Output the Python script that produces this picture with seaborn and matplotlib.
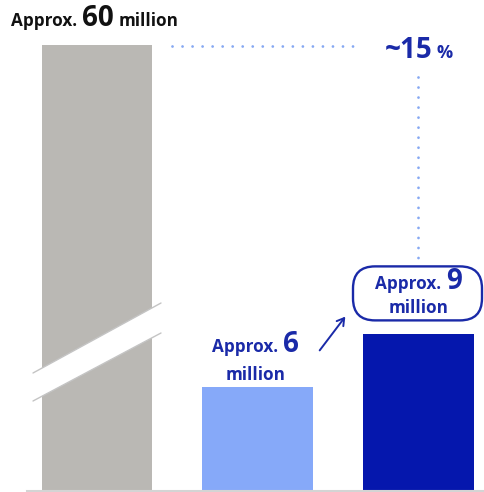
import matplotlib
matplotlib.use("Agg")
import matplotlib.pyplot as plt
import seaborn as sns
import pandas as pd
from matplotlib.patches import FancyBboxPatch, Polygon, FancyArrowPatch
from matplotlib.lines import Line2D
from matplotlib.transforms import IdentityTransform

# ---- data -------------------------------------------------------------
groups = ["total", "now", "next"]
values = [60, 6, 9]                      # millions
bar_colors = ["#bab8b4", "#86a9f9", "#0517ad"]
unit_word = "million"
prefix = "Approx."
share_text = "~15"
share_unit = "%"

# ---- figure / axes ----------------------------------------------------
W, H = 485, 492
sns.set_theme(style="white")
plt.rcParams["font.family"] = ["Open Sans", "DejaVu Sans"]

fig = plt.figure(figsize=(W / 100, H / 100), dpi=100)
ax = fig.add_axes([27 / W, 1 / H, 458 / W, 446 / H])

df = pd.DataFrame({"group": groups, "value": values})
sns.barplot(data=df, x="group", y="value", hue="group", palette=bar_colors,
            width=0.69, saturation=1, legend=False, ax=ax, linewidth=0)

ax.set_xlim(-0.4355, 2.414)
ax.set_ylim(0, 25.63)          # the tall bar is cut off at the top
ax.set_xlabel("")
ax.set_ylabel("")
ax.set_xticks([])
ax.set_yticks([])
for side in ("left", "right", "top"):
    ax.spines[side].set_visible(False)
ax.spines["bottom"].set_color("#d4d4d4")
ax.spines["bottom"].set_linewidth(1.5)

DARK = "#1a2aa8"
LIGHT = "#86a8f2"
PX = IdentityTransform()
renderer = fig.canvas.get_renderer()

SMALL, BIG = 12.3, 20


def dy(y_top):
    """pixel row measured from the top -> display y"""
    return H - y_top


def bar_top(i):
    return H - ax.transData.transform((i, values[i]))[1]


def bar_x(i):
    return ax.transData.transform((i, 0))[0]


def text_run(parts, x, y_top, ha="left", color="black", gap=5):
    arts = []
    for s, size in parts:
        t = fig.text(0, 0, s, fontsize=size, fontweight="bold", color=color,
                     va="baseline", ha="left", transform=PX, zorder=8)
        arts.append(t)
    widths = [a.get_window_extent(renderer).width for a in arts]
    total = sum(widths) + gap * (len(arts) - 1)
    cx = x - total / 2 if ha == "center" else x
    for a, w in zip(arts, widths):
        a.set_position((cx, dy(y_top)))
        cx += w + gap
    return arts


# ---- broken-axis cut across the tall bar ------------------------------
upper = [(33, 373), (161, 303)]
lower = [(33, 401), (161, 333)]
band = Polygon([(x, dy(y)) for x, y in upper + lower[::-1]], closed=True,
               facecolor="white", edgecolor="none", transform=PX, zorder=5)
fig.add_artist(band)
for edge in (upper, lower):
    fig.add_artist(Line2D([p[0] for p in edge], [dy(p[1]) for p in edge],
                          color="#c4c4c4", lw=1.0, transform=PX, zorder=6))

# ---- labels -----------------------------------------------------------
text_run([(prefix, SMALL), (str(values[0]), BIG), (unit_word, SMALL)], 11, 26,
         color="#111111", gap=5)

T2 = bar_top(1)
T3 = bar_top(2)
x2 = bar_x(1)
x3 = bar_x(2)

text_run([(prefix, SMALL), (str(values[1]), BIG)], x2 - 2, T2 - 35,
         ha="center", color=DARK)
text_run([(unit_word, SMALL)], x2 - 2, T2 - 7, ha="center", color=DARK)

box = FancyBboxPatch((353, dy(T3 - 14)), 129, 54,
                     boxstyle="round,pad=0,rounding_size=22",
                     facecolor="white", edgecolor=DARK, lw=1.7,
                     transform=PX, zorder=4)
fig.add_artist(box)
text_run([(prefix, SMALL), (str(values[2]), BIG)], x3, T3 - 45,
         ha="center", color=DARK)
text_run([(unit_word, SMALL)], x3, T3 - 21, ha="center", color=DARK)

arrow = FancyArrowPatch((318, dy(T2 - 34)), (347, dy(T3 - 20)),
                        arrowstyle="->,head_length=5,head_width=3",
                        color=DARK, lw=1.4, transform=PX, zorder=6)
fig.add_artist(arrow)

text_run([(share_text, 20), (share_unit, 13)], x3, 58, ha="center",
         color=DARK, gap=4)

# ---- dotted guide lines -----------------------------------------------
dot = dict(color=LIGHT, lw=2.0, linestyle=(0, (0.01, 3.6)),
           dash_capstyle="round", transform=PX, zorder=3)
fig.add_artist(Line2D([172, 357], [dy(46), dy(46)], **dot))
fig.add_artist(Line2D([x3, x3], [dy(77), dy(T3 - 76)], **dot))

fig.savefig("out.png", dpi=100)
